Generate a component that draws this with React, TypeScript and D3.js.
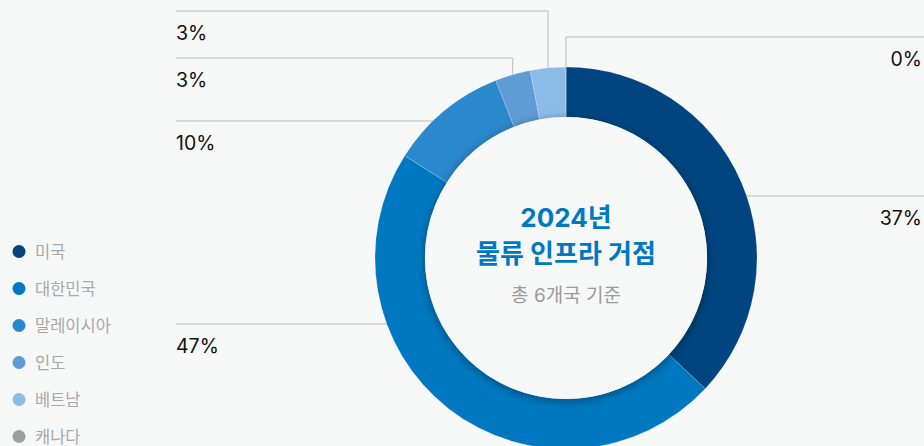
import React from "react";
import * as d3 from "d3";

const categories = ["미국", "대한민국", "말레이시아", "인도", "베트남", "캐나다"];
const shares = [37, 47, 10, 3, 3, 0];
const colors = ["#004580", "#0078c1", "#2a88cc", "#5f9bd5", "#8bbce8", "#9e9e9e"];
const centerTitle = ["2024년", "물류 인프라 거점"];
const centerSub = "총 6개국 기준";

// label layout: side of the label and the y of its leader line
const labelSide = ["right", "left", "left", "left", "left", "right"];
const labelLineY = [196, 324, 121, 58, 11, 37];

const W = 924;
const H = 446;
const CX = 566;
const CY = 258;
const R_OUT = 191;
const R_IN = 141;
const BG = "#f6f8f8";
const FONT = "Inter, 'Noto Sans CJK KR', sans-serif";

export default function App() {
  const data = categories.map((c, i) => ({ name: c, value: shares[i], color: colors[i], i }));
  const pie = d3.pie<any>().value((d) => d.value).sort(null);
  const arcs = pie(data);
  const arcGen = d3.arc<any>().innerRadius(R_IN).outerRadius(R_OUT);

  const leftX = 176;
  const rightX = 922;

  return (
    <div style={{ position: "fixed", left: 0, top: 0, width: W, height: H, background: BG }}>
      <svg width={W} height={H} style={{ display: "block" }}>
        <defs>
          <filter id="innerShadow" x="-20%" y="-20%" width="140%" height="140%">
            <feDropShadow dx="0" dy="2" stdDeviation="5" floodColor="#000" floodOpacity="0.4" />
          </filter>
        </defs>
        <rect width={W} height={H} fill={BG} />

        {/* leader lines */}
        {arcs.map((a, k) => {
          const mid = (a.startAngle + a.endAngle) / 2;
          const ly = labelLineY[k];
          const side = labelSide[k];
          const px = CX + R_OUT * Math.sin(mid);
          const py = CY - R_OUT * Math.cos(mid);
          const nearTop = Math.abs(Math.sin(mid)) < 0.35 && Math.cos(mid) > 0;
          let d: string;
          if (nearTop) {
            const endX = side === "left" ? leftX : W;
            d = `M${px},${py}V${ly}H${endX}`;
          } else {
            const dy = ly - CY;
            const dx = Math.sqrt(Math.max(0, R_OUT * R_OUT - dy * dy));
            const sx = side === "left" ? CX - dx : CX + dx;
            const endX = side === "left" ? leftX : W;
            d = `M${sx},${ly}H${endX}`;
          }
          return <path key={"l" + k} d={d} fill="none" stroke="#b9b9b9" strokeWidth={1} />;
        })}

        {/* ring */}
        <g transform={`translate(${CX},${CY})`}>
          {arcs.map((a, k) => (
            <path key={"a" + k} d={arcGen(a) || ""} fill={a.data.color} stroke="#ffffff" strokeOpacity={0.35} strokeWidth={0.5} />
          ))}
          <circle r={R_IN} fill={BG} filter="url(#innerShadow)" />
          <circle r={R_IN - 1} fill={BG} />
        </g>

        {/* labels */}
        {arcs.map((a, k) => {
          const side = labelSide[k];
          const ly = labelLineY[k];
          return (
            <text
              key={"t" + k}
              x={side === "left" ? leftX : rightX}
              y={ly + 28.5}
              textAnchor={side === "left" ? "start" : "end"}
              fontFamily={FONT}
              fontSize={19.5}
              fill="#111"
            >
              {a.data.value}%
            </text>
          );
        })}

        {/* center text */}
        <text x={CX} y={227} textAnchor="middle" fontFamily={FONT} fontSize={26} fontWeight={700} fill="#0078c1">
          {centerTitle[0]}
        </text>
        <text x={CX} y={263} textAnchor="middle" fontFamily={FONT} fontSize={26} fontWeight={700} fill="#0078c1">
          {centerTitle[1]}
        </text>
        <text x={CX} y={302} textAnchor="middle" fontFamily={FONT} fontSize={19} fill="#9a9a9a">
          {centerSub}
        </text>

        {/* legend */}
        {categories.map((c, i) => {
          const y = 251.5 + i * 37;
          return (
            <g key={"lg" + i}>
              <circle cx={19} cy={y} r={6.5} fill={colors[i]} />
              <text x={35} y={y + 6} fontFamily={FONT} fontSize={16.5} fill="#a8a8a8">
                {c}
              </text>
            </g>
          );
        })}
      </svg>
    </div>
  );
}
